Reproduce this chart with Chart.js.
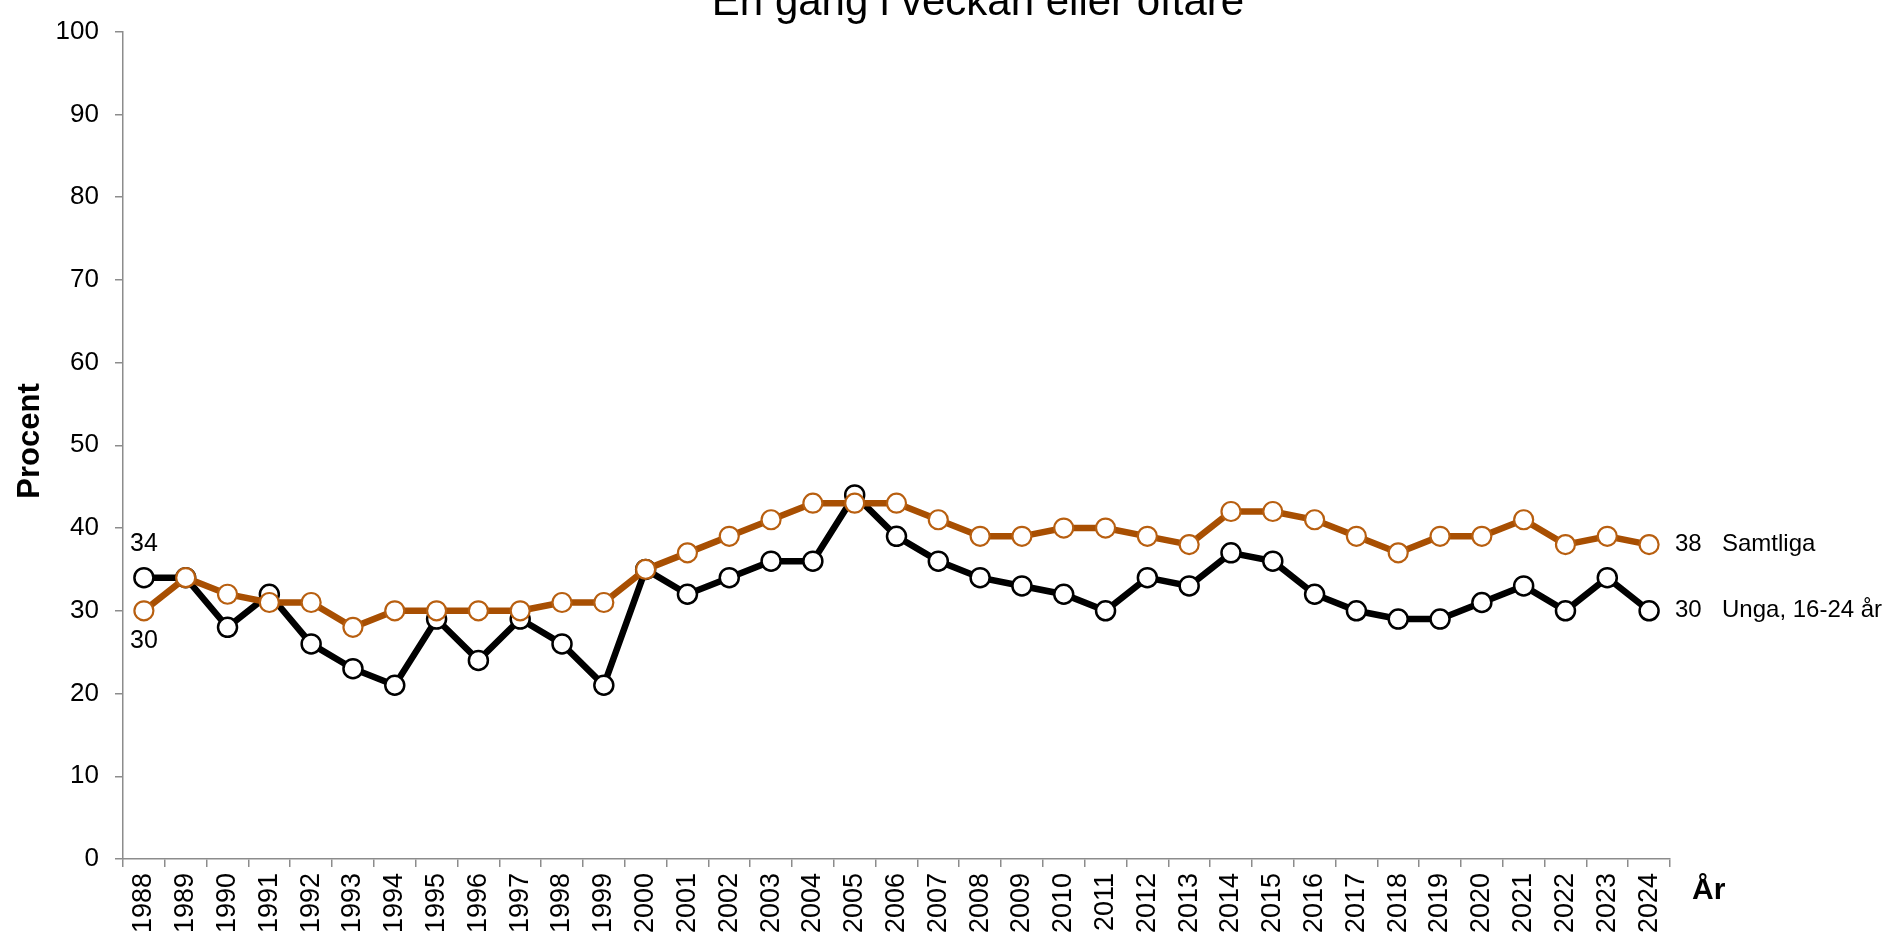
<!DOCTYPE html>
<html lang="sv">
<head>
<meta charset="utf-8">
<title>En gång i veckan eller oftare</title>
<script src="https://cdn.jsdelivr.net/npm/chart.js@4/dist/chart.umd.min.js"></script>
<style>
  html, body { margin: 0; padding: 0; background: #fff; }
  #chart { display: block; }
</style>
</head>
<body>
<canvas id="chart" width="1886" height="933"></canvas>
<script>
// Data
const YEARS = ["1988","1989","1990","1991","1992","1993","1994","1995","1996","1997","1998","1999",
  "2000","2001","2002","2003","2004","2005","2006","2007","2008","2009","2010","2011","2012",
  "2013","2014","2015","2016","2017","2018","2019","2020","2021","2022","2023","2024"];
const SAMTLIGA = [30,34,32,31,31,28,30,30,30,30,31,31,35,37,39,41,43,43,43,41,39,39,40,40,39,38,42,42,41,39,37,39,39,41,38,39,38];
const UNGA = [34,34,28,32,26,23,21,29,24,29,26,21,35,32,34,36,36,44,39,36,34,33,32,30,34,33,37,36,32,30,29,29,31,33,30,34,30];
const Y_TICKS = [0,10,20,30,40,50,60,70,80,90,100];
const TITLE = "En gång i veckan eller oftare";
const Y_TITLE = "Procent";
const X_TITLE = "År";
const NAME_SAMTLIGA = "Samtliga";
const NAME_UNGA = "Unga, 16-24 år";

const FONT = "'Liberation Sans', Arial, sans-serif";
const AXIS_COLOR = "#8c8c8c";
const ORANGE = "#a84f02";
const ORANGE_RING = "#b85f10";

// Text drawn on top of the chart: title, axis titles, start/end labels
const textPlugin = {
  id: "texts",
  afterDraw(chart) {
    const ctx = chart.ctx;
    const x = chart.scales.x;
    const y = chart.scales.y;
    ctx.save();
    ctx.fillStyle = "#000";

    ctx.font = "42px " + FONT;
    ctx.textAlign = "center";
    ctx.textBaseline = "alphabetic";
    ctx.fillText(TITLE, 978, 15);

    ctx.font = "bold 31px " + FONT;
    ctx.save();
    ctx.translate(30, 441);
    ctx.rotate(-Math.PI / 2);
    ctx.textBaseline = "middle";
    ctx.fillText(Y_TITLE, 0, 0);
    ctx.restore();

    ctx.textAlign = "left";
    ctx.textBaseline = "alphabetic";
    ctx.font = "bold 30px " + FONT;
    ctx.fillText(X_TITLE, 1692, 899);

    // end labels
    ctx.font = "24px " + FONT;
    ctx.textBaseline = "middle";
    const last = YEARS.length - 1;
    const ys = y.getPixelForValue(SAMTLIGA[last]);
    const yu = y.getPixelForValue(UNGA[last]);
    ctx.fillText(String(SAMTLIGA[last]), 1675, ys);
    ctx.fillText(NAME_SAMTLIGA, 1722, ys);
    ctx.fillText(String(UNGA[last]), 1675, yu);
    ctx.fillText(NAME_UNGA, 1722, yu);

    // start labels
    ctx.font = "25px " + FONT;
    ctx.textAlign = "center";
    const x0 = x.getPixelForValue(0);
    ctx.fillText(String(UNGA[0]), x0, y.getPixelForValue(UNGA[0]) - 34);
    ctx.fillText(String(SAMTLIGA[0]), x0, y.getPixelForValue(SAMTLIGA[0]) + 30);
    ctx.restore();
  }
};

const axisGrid = {
  drawOnChartArea: false,
  drawTicks: true,
  tickLength: 8,
  color: AXIS_COLOR,
  lineWidth: 1.5,
};

new Chart(document.getElementById("chart"), {
  type: "line",
  data: {
    labels: YEARS,
    datasets: [
      {
        label: NAME_SAMTLIGA,
        data: SAMTLIGA,
        borderColor: ORANGE,
        borderWidth: 6.5,
        pointRadius: 9.5,
        pointBackgroundColor: "#fff",
        pointBorderColor: ORANGE_RING,
        pointBorderWidth: 2.2,
        tension: 0,
      },
      {
        label: NAME_UNGA,
        data: UNGA,
        borderColor: "#000",
        borderWidth: 6.5,
        pointRadius: 9.5,
        pointBackgroundColor: "#fff",
        pointBorderColor: "#000",
        pointBorderWidth: 2.5,
        tension: 0,
      },
    ],
  },
  options: {
    responsive: false,
    devicePixelRatio: 1,
    animation: false,
    layout: { padding: { top: 25, right: 216, left: 0, bottom: 0 } },
    plugins: {
      legend: { display: false },
      tooltip: { enabled: false },
      title: { display: false },
    },
    scales: {
      x: {
        type: "category",
        offset: true,
        grid: { ...axisGrid, offset: true },
        border: { display: true, color: AXIS_COLOR, width: 1.5 },
        ticks: {
          autoSkip: false,
          minRotation: 90,
          maxRotation: 90,
          padding: 6,
          color: "#000",
          font: { family: FONT, size: 27 },
        },
        afterFit(scale) { scale.height = 74; },
      },
      y: {
        min: 0,
        max: 100,
        afterBuildTicks(scale) { scale.ticks = Y_TICKS.map(v => ({ value: v })); },
        grid: axisGrid,
        border: { display: true, color: AXIS_COLOR, width: 1.5 },
        ticks: {
          padding: 16,
          color: "#000",
          font: { family: FONT, size: 26 },
        },
        afterFit(scale) { scale.width = 123; },
      },
    },
  },
  plugins: [textPlugin],
});
</script>
</body>
</html>
